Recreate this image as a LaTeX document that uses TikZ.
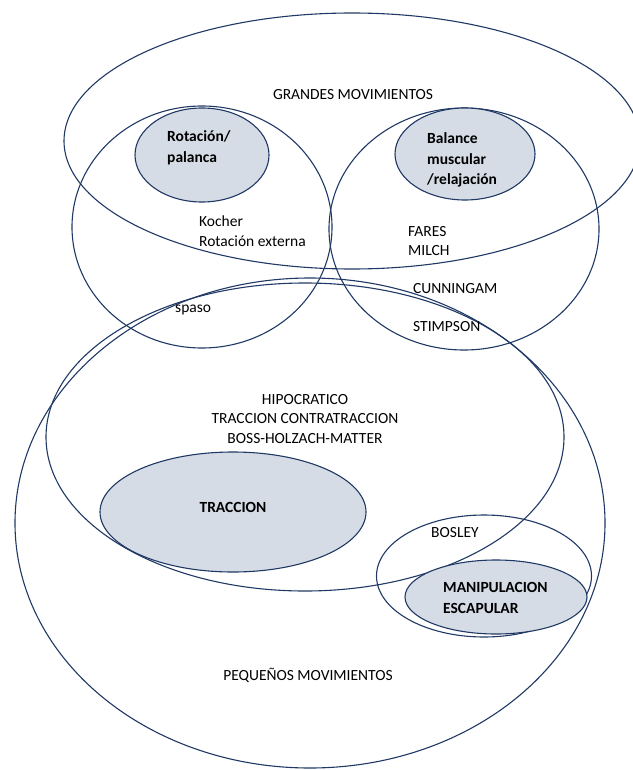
\documentclass[tikz,border=0pt]{standalone}
\usepackage{fontspec}
\setmainfont{Carlito}
\usetikzlibrary{shapes.geometric}
\definecolor{setline}{HTML}{1F3864}
\definecolor{setfill}{HTML}{D6DCE5}
\tikzset{%
  set/.style={draw=setline,ellipse,line width=1.1pt,inner sep=0pt,outer sep=0pt},
  core/.style={set,fill=setfill},
  txt/.style={font=\fontsize{15.5}{19.5}\selectfont,inner sep=0pt},
  btxt/.style={font=\fontsize{15.5}{20.5}\selectfont\bfseries,inner sep=0pt}%
}
\begin{document}
\begin{tikzpicture}[
    x=1pt,y=-1pt,
    lefttxt/.style={txt,align=left,anchor=west},
    leftbtxt/.style={btxt,align=left,anchor=west}
]
\useasboundingbox (0,0) rectangle (632,770);

% large sets
\node[set,minimum width=576pt,minimum height=256pt] (grandes) at (352,141) {};
\node[set,minimum width=260pt,minimum height=242pt] (kocher) at (202,227) {};
\node[set,minimum width=270pt,minimum height=242pt] (fares) at (464,229) {};
\node[set,minimum width=590pt,minimum height=490pt] (pequenos) at (310,523) {};
\node[set,minimum width=518pt,minimum height=308pt] (hipocratico) at (305,437) {};
\node[set,minimum width=215pt,minimum height=122pt] (bosley) at (484,576) {};

% shaded sets
\node[core,minimum width=134pt,minimum height=94pt] (rotacion) at (202,155) {};
\node[core,minimum width=140pt,minimum height=92pt] (balance) at (465,154) {};
\node[core,minimum width=266pt,minimum height=120pt] (traccion) at (233,512) {};
\node[core,minimum width=182pt,minimum height=74pt] (escapular) at (496,597) {};

% texts
\node[txt] (tgrandes) at (353,95) {GRANDES MOVIMIENTOS};
\node[leftbtxt] (trotacion) at (167,148) {Rotación/\\palanca};
\node[leftbtxt] (tbalance) at (427,160) {Balance\\muscular\\/relajación};
\node[lefttxt] (tkocher) at (199,231) {Kocher\\Rotación externa};
\node[lefttxt] (tfares) at (408,241) {FARES\\MILCH};
\node[lefttxt] (tcunningam) at (413,289) {CUNNINGAM};
\node[lefttxt] (tstimpson) at (413,327) {STIMPSON};
\node[lefttxt] (tspaso) at (175,310) {spaso};
\node[txt,align=center] (thipocratico) at (305,419) {HIPOCRATICO\\TRACCION CONTRATRACCION\\BOSS-HOLZACH-MATTER};
\node[btxt] (ttraccion) at (233,507) {TRACCION};
\node[lefttxt] (tbosley) at (431,533) {BOSLEY};
\node[leftbtxt] (tescapular) at (443,598) {MANIPULACION\\ESCAPULAR};
\node[txt] (tpequenos) at (308,675) {PEQUEÑOS MOVIMIENTOS};

\end{tikzpicture}
\end{document}
